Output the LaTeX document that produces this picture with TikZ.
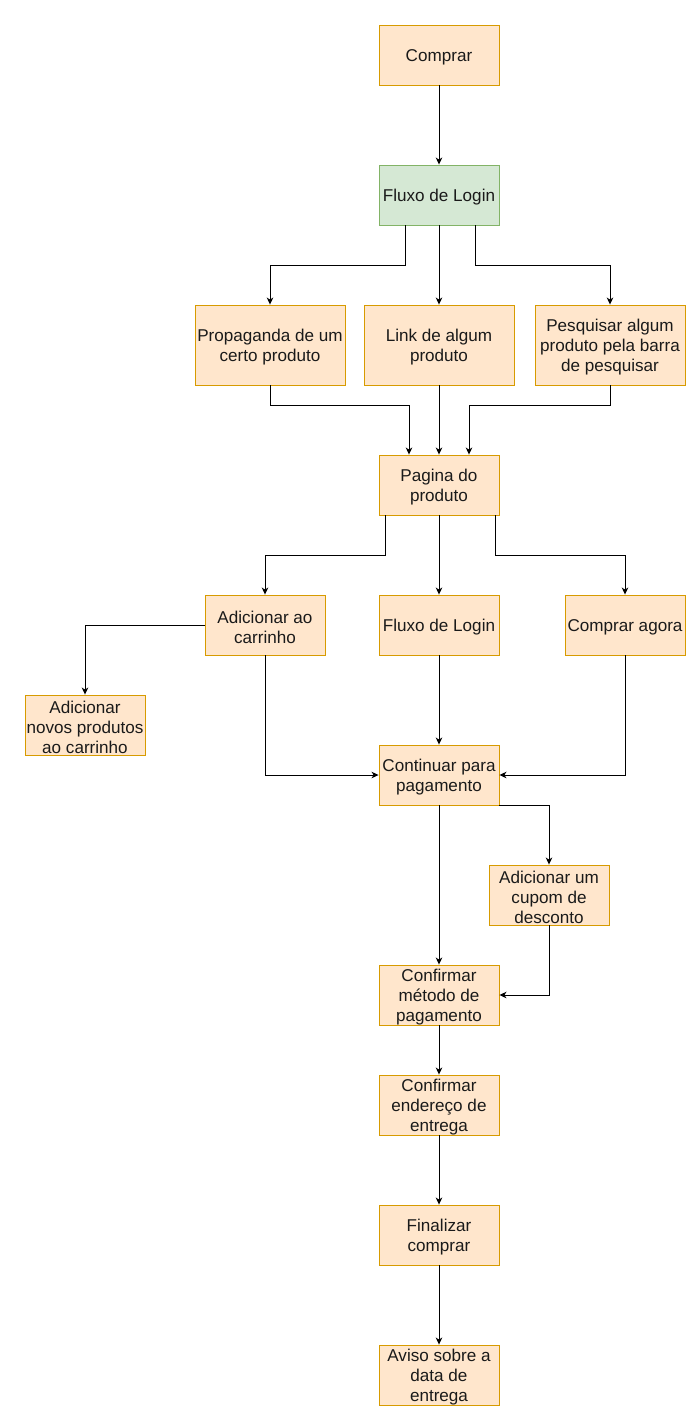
\documentclass[tikz,border=0pt]{standalone}
\usepackage{fontspec}
\setmainfont{Liberation Sans}
\usetikzlibrary{calc,arrows.meta}
\definecolor{boxfill}{HTML}{FFE6CC}
\definecolor{boxline}{HTML}{D79B00}
\definecolor{greenfill}{HTML}{D5E8D4}
\definecolor{greenline}{HTML}{82B366}
\definecolor{txt}{HTML}{1A1A1A}
\begin{document}
\begin{tikzpicture}[x=1pt,y=-1pt,
  lbl/.style={inner sep=0pt,align=center,text=txt,yshift=-2pt,
    font=\fontsize{17.1}{20}\selectfont},
  box/.style={draw=boxline,fill=boxfill,line width=0.9pt,minimum width=120pt,minimum height=60pt,
    inner sep=0pt,label={[lbl]center:#1}},
  wide/.style={box=#1,minimum width=150pt,minimum height=80pt},
  green/.style={box=#1,draw=greenline,fill=greenfill},
  arr/.style={draw=black,line width=1pt,-{Stealth[length=7pt,width=6.5pt,inset=2pt]}}]
\useasboundingbox (0,0) rectangle (691,1411);

% boxes
\node[box={Comprar}]                                (comprar) at (439,55)   {};
\node[green={Fluxo de Login}]                       (login1)  at (439,195)  {};
\node[wide={Propaganda de um\\certo produto}]       (prop)    at (270,345)  {};
\node[wide={Link de algum\\produto}]                (link)    at (439,345)  {};
\node[wide={Pesquisar algum\\produto pela barra\\de pesquisar}] (pesq) at (610,345) {};
\node[box={Pagina do\\produto}]                     (pagina)  at (439,485)  {};
\node[box={Adicionar ao\\carrinho}]                 (addcart) at (265,625)  {};
\node[box={Fluxo de Login}]                         (login2)  at (439,625)  {};
\node[box={Comprar agora}]                          (agora)   at (625,625)  {};
\node[box={Adicionar\\novos produtos\\ao carrinho}] (novos)   at (85,725)   {};
\node[box={Continuar para\\pagamento}]              (cont)    at (439,775)  {};
\node[box={Adicionar um\\cupom de\\desconto}]       (cupom)   at (549,895)  {};
\node[box={Confirmar\\método de\\pagamento}]        (confmet) at (439,995)  {};
\node[box={Confirmar\\endereço de\\entrega}]        (confend) at (439,1105) {};
\node[box={Finalizar\\comprar}]                     (final)   at (439,1235) {};
\node[box={Aviso sobre a\\data de\\entrega}]        (aviso)   at (439,1375) {};

% connectors
\draw[arr] (comprar) -- (login1);
\draw[arr] ($(login1.south)+(-34,0)$) -- ++(0,40) -| (prop.north);
\draw[arr] (login1) -- (link);
\draw[arr] ($(login1.south)+(36,0)$) -- ++(0,40) -| (pesq.north);
\draw[arr] (prop.south) -- ++(0,20) -| ($(pagina.north)+(-30,0)$);
\draw[arr] (link) -- (pagina);
\draw[arr] (pesq.south) -- ++(0,20) -| ($(pagina.north)+(30,0)$);
\draw[arr] ($(pagina.south)+(-54,0)$) -- ++(0,40) -| (addcart.north);
\draw[arr] (pagina) -- (login2);
\draw[arr] ($(pagina.south)+(56,0)$) -- ++(0,40) -| (agora.north);
\draw[arr] (addcart.west) -| (novos.north);
\draw[arr] (addcart.south) |- (cont.west);
\draw[arr] (login2) -- (cont);
\draw[arr] (agora.south) |- (cont.east);
\draw[arr] (cont.south east) -| (cupom.north);
\draw[arr] (cont) -- (confmet);
\draw[arr] (cupom.south) |- (confmet.east);
\draw[arr] (confmet) -- (confend);
\draw[arr] (confend) -- (final);
\draw[arr] (final) -- (aviso);
\end{tikzpicture}
\end{document}
